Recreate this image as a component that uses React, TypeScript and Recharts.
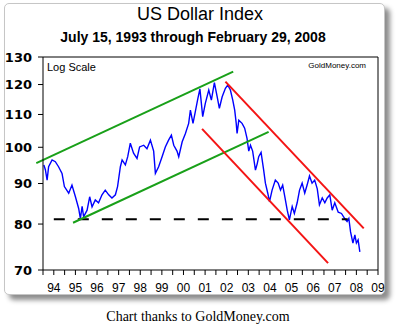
import React from 'react';
import { ComposedChart, Line, XAxis, YAxis, ReferenceLine } from 'recharts';

// US Dollar Index (decimal year -> index value)
const years = [
  1993.54, 1993.61, 1993.69, 1993.76, 1993.92, 1994.07, 1994.22, 1994.38, 1994.49, 1994.69,
  1994.84, 1995.0, 1995.15, 1995.23, 1995.31, 1995.38, 1995.54, 1995.66, 1995.77, 1995.92,
  1996.07, 1996.23, 1996.38, 1996.54, 1996.69, 1996.85, 1996.95, 1997.08, 1997.16, 1997.31,
  1997.42, 1997.54, 1997.69, 1997.85, 1997.97, 1998.16, 1998.31, 1998.47, 1998.62, 1998.7,
  1998.85, 1999.01, 1999.16, 1999.31, 1999.44, 1999.55, 1999.7, 1999.78, 1999.94, 2000.09,
  2000.24, 2000.32, 2000.44, 2000.55, 2000.66, 2000.76, 2000.89, 2001.01, 2001.17, 2001.29,
  2001.43, 2001.56, 2001.66, 2001.79, 2001.94, 2002.05, 2002.17, 2002.28, 2002.37, 2002.44,
  2002.48, 2002.56, 2002.71, 2002.83, 2002.94, 2003.02, 2003.1, 2003.2, 2003.33, 2003.41,
  2003.48, 2003.59, 2003.71, 2003.79, 2003.9, 2003.98, 2004.1, 2004.25, 2004.38, 2004.49,
  2004.59, 2004.69, 2004.8, 2004.9, 2005.03, 2005.13, 2005.26, 2005.37, 2005.49, 2005.61,
  2005.72, 2005.83, 2005.95, 2006.07, 2006.19, 2006.29, 2006.42, 2006.54, 2006.65, 2006.77,
  2006.88, 2007.0, 2007.16, 2007.31, 2007.46, 2007.57, 2007.65, 2007.73, 2007.84, 2007.93,
  2008.0, 2008.08, 2008.16,
];

const usdx = [
  95.0, 93.7, 90.9, 94.5, 96.4, 95.9, 94.5, 92.7, 89.2, 87.5,
  89.6, 86.6, 83.7, 81.3, 84.2, 81.7, 83.3, 86.6, 84.1, 85.8,
  85.1, 87.1, 88.3, 87.1, 86.3, 87.1, 89.2, 94.5, 96.4, 95.0,
  97.3, 101.2, 98.3, 96.8, 100.1, 100.6, 99.6, 102.1, 98.9, 92.7,
  94.5, 97.3, 100.1, 102.1, 103.6, 100.6, 98.9, 97.3, 101.6, 104.1,
  107.2, 111.4, 107.2, 111.0, 115.0, 118.5, 109.3, 113.6, 118.1, 114.7,
  120.7, 115.8, 112.0, 115.8, 118.7, 119.8, 118.1, 114.7, 111.4, 107.2,
  104.1, 108.2, 107.2, 105.7, 102.6, 98.9, 100.6, 98.9, 93.6, 95.3,
  97.3, 98.5, 93.6, 90.1, 87.5, 85.4, 88.3, 90.9, 90.1, 88.3,
  89.6, 86.6, 83.3, 81.0, 84.2, 82.5, 85.1, 88.3, 90.1, 87.5,
  89.6, 92.0, 90.1, 90.9, 88.6, 84.6, 86.3, 85.1, 86.3, 87.1,
  83.3, 85.1, 82.8, 82.5, 81.3, 80.6, 81.3, 78.2, 75.7, 77.5,
  75.7, 76.4, 73.8,
];

// trend channels drawn on the chart
const greenUpper = [{ year: 1993.19, value: 95.5 }, { year: 2002.3, value: 124.6 }];
const greenLower = [{ year: 1994.89, value: 80.3 }, { year: 2003.94, value: 104.6 }];
const redUpper = [{ year: 2001.94, value: 121.0 }, { year: 2008.34, value: 79.0 }];
const redLower = [{ year: 2000.86, value: 105.5 }, { year: 2006.69, value: 71.4 }];
const supportLine = [{ year: 1994.0, value: 81.1 }, { year: 2007.6, value: 81.1 }];

const yTicks = [70, 80, 90, 100, 110, 120, 130];
const xTicks = [
  1993.5, 1994, 1994.5, 1995, 1995.5, 1996, 1996.5, 1997, 1997.5, 1998, 1998.5,
  1999, 1999.5, 2000, 2000.5, 2001, 2001.5, 2002, 2002.5, 2003, 2003.5, 2004,
  2004.5, 2005, 2005.5, 2006, 2006.5, 2007, 2007.5, 2008, 2008.5, 2009,
];

const data = years.map((year, i) => ({ year, value: usdx[i] }));

const seg = (pts: { year: number; value: number }[]) =>
  pts.map((p) => ({ x: p.year, y: p.value }));

const sans = '"Liberation Sans", Arial, sans-serif';

export default function App() {
  return (
    <div style={{ position: 'absolute', left: 0, top: 0, width: 400, height: 325, background: '#fff', overflow: 'hidden' }}>
      <div
        style={{
          position: 'absolute', left: 4, top: 3, width: 379, height: 290,
          border: '1px solid #c6c6c6', borderRadius: 5, background: '#fff',
          boxShadow: '5px 5px 5px rgba(0,0,0,0.45)',
        }}
      />
      <div style={{ position: 'absolute', left: 0, top: 0 }}>
        <ComposedChart width={400} height={300} data={data} margin={{ top: 57, right: 22, bottom: 0, left: 8 }}>
          <XAxis
            dataKey="year"
            type="number"
            domain={[1993.5, 2009]}
            ticks={xTicks}
            interval={0}
            allowDataOverflow
            height={30}
            tickSize={5}
            tickMargin={8}
            stroke="#000"
            tickLine={{ stroke: '#000' }}
            tick={{ fill: '#000', fontSize: 12, fontFamily: sans }}
            tickFormatter={(v: number) => (Number.isInteger(v) ? String(v).slice(2) : '')}
          />
          <YAxis
            scale="log"
            domain={[70, 130]}
            ticks={yTicks}
            interval={0}
            allowDataOverflow
            width={35}
            tickSize={5}
            tickMargin={6}
            stroke="#000"
            tickLine={{ stroke: '#000' }}
            tick={{ fill: '#000', fontSize: 13, fontWeight: 'bold', fontFamily: '"DejaVu Sans", Verdana, sans-serif' }}
          />
          <ReferenceLine y={130} stroke="#000" strokeWidth={1} />
          <ReferenceLine x={2009} stroke="#000" strokeWidth={1} />
          <Line
            type="linear"
            dataKey="value"
            stroke="#0000ff"
            strokeWidth={1.4}
            dot={false}
            isAnimationActive={false}
          />
          <ReferenceLine segment={seg(supportLine)} stroke="#000" strokeWidth={2} strokeDasharray="11 13" ifOverflow="visible" />
          <ReferenceLine segment={seg(greenUpper)} stroke="#19a019" strokeWidth={2} ifOverflow="visible" />
          <ReferenceLine segment={seg(greenLower)} stroke="#19a019" strokeWidth={2} ifOverflow="visible" />
          <ReferenceLine segment={seg(redUpper)} stroke="#f41414" strokeWidth={2} ifOverflow="visible" />
          <ReferenceLine segment={seg(redLower)} stroke="#f41414" strokeWidth={2} ifOverflow="visible" />
        </ComposedChart>
      </div>
      <svg width={400} height={325} style={{ position: 'absolute', left: 0, top: 0, pointerEvents: 'none' }}>
        <text x={200} y={20} textAnchor="middle" fontFamily={sans} fontSize={18} fill="#000">US Dollar Index</text>
        <text x={193} y={42} textAnchor="middle" fontFamily={sans} fontSize={14} fontWeight="bold" fill="#000">
          July 15, 1993 through February 29, 2008
        </text>
        <text x={47} y={71} fontFamily={sans} fontSize={11} fill="#000">Log Scale</text>
        <text x={366} y={67.5} textAnchor="end" fontFamily={sans} fontSize={8} fill="#000">GoldMoney.com</text>
        <text x={198} y={321} textAnchor="middle" fontFamily='"Liberation Serif", "Times New Roman", serif' fontSize={14} fill="#000">
          Chart thanks to GoldMoney.com
        </text>
      </svg>
    </div>
  );
}
